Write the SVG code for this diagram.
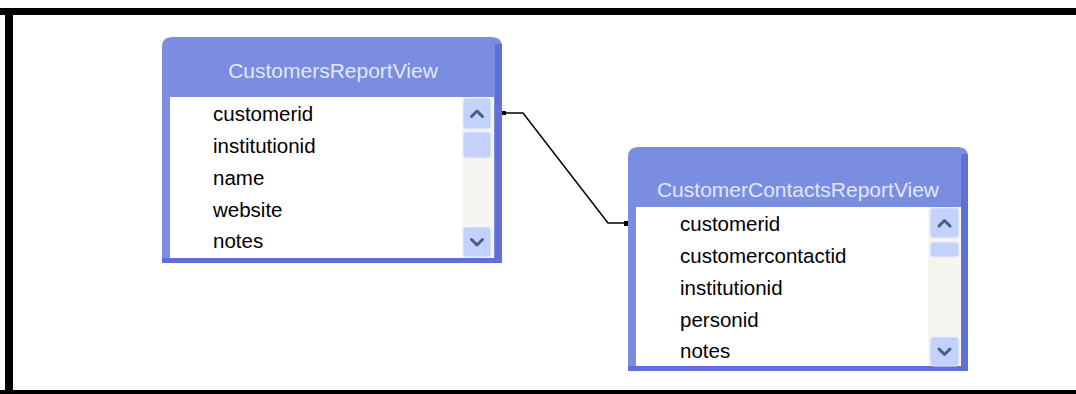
<svg xmlns="http://www.w3.org/2000/svg" width="1076" height="394" viewBox="0 0 1076 394">
<style>
.frame{fill:#000}
.tbl{fill:#7a8de0}
.shade{fill:#6070d6}
.body{fill:#fff}
.track{fill:#f6f5ef}
.btn{fill:#c3d1fb;stroke:#e8eeff;stroke-width:1}
.chev{fill:none;stroke:#4a5f86;stroke-width:3;stroke-linecap:round;stroke-linejoin:round}
.title{font-family:"Liberation Sans",Arial,sans-serif;font-size:21px;fill:#e2e7fb;text-anchor:middle}
.field{font-family:"Liberation Sans",Arial,sans-serif;font-size:20.5px;fill:#000}
.conn{fill:none;stroke:#000;stroke-width:1.5}
</style>
<rect width="1076" height="394" fill="#fff"/>
<g id="frame">
<rect class="frame" x="0" y="8" width="1076" height="7"/>
<rect class="frame" x="5" y="8" width="8" height="386"/>
<rect class="frame" x="0" y="390" width="1076" height="4"/>
</g>
<g id="CustomersReportView">
<path class="tbl" d="M162,263 L162,47 Q162,37 172,37 L492,37 Q502,37 502,47 L502,263 Z"/>
<rect class="shade" x="495" y="44" width="7" height="219"/>
<rect class="shade" x="162" y="258" width="340" height="5"/>
<rect class="body" x="170" y="97" width="292" height="161"/>
<rect class="track" x="462" y="97" width="32" height="161"/>
<rect class="btn" x="463" y="98" width="28" height="31" rx="3"/>
<path class="chev" d="M471.5,116.5 L477,111 L482.5,116.5"/>
<rect class="btn" x="463" y="132" width="28" height="26" rx="3"/>
<rect class="btn" x="463" y="227" width="28" height="30" rx="3"/>
<path class="chev" d="M471.5,239.5 L477,245 L482.5,239.5"/>
<text class="title" x="333" y="78">CustomersReportView</text>
<text class="field" x="213" y="121">customerid</text>
<text class="field" x="213" y="153">institutionid</text>
<text class="field" x="213" y="185">name</text>
<text class="field" x="213" y="217">website</text>
<text class="field" x="213" y="248">notes</text>
</g>
<g id="CustomerContactsReportView">
<path class="tbl" d="M628,371 L628,157 Q628,147 638,147 L958,147 Q968,147 968,157 L968,371 Z"/>
<rect class="shade" x="961" y="154" width="7" height="217"/>
<rect class="shade" x="628" y="366" width="340" height="5"/>
<rect class="body" x="636" y="207" width="292" height="159"/>
<rect class="track" x="928" y="207" width="33" height="159"/>
<rect class="btn" x="930" y="208" width="29" height="30" rx="3"/>
<path class="chev" d="M939,226 L944.5,220.5 L950,226"/>
<rect class="btn" x="930" y="242" width="29" height="15" rx="3"/>
<rect class="btn" x="930" y="337" width="29" height="29" rx="3"/>
<path class="chev" d="M939,349 L944.5,354.5 L950,349"/>
<text class="title" x="798" y="197">CustomerContactsReportView</text>
<text class="field" x="680" y="231">customerid</text>
<text class="field" x="680" y="263">customercontactid</text>
<text class="field" x="680" y="295">institutionid</text>
<text class="field" x="680" y="327">personid</text>
<text class="field" x="680" y="358">notes</text>
</g>
<g id="connectors">
<path class="conn" d="M503,113 L523,113 L608,223 L627,223"/>
<rect x="502" y="111" width="4" height="4" fill="#000"/>
<rect x="624" y="221" width="4" height="5" fill="#000"/>
</g>
</svg>
